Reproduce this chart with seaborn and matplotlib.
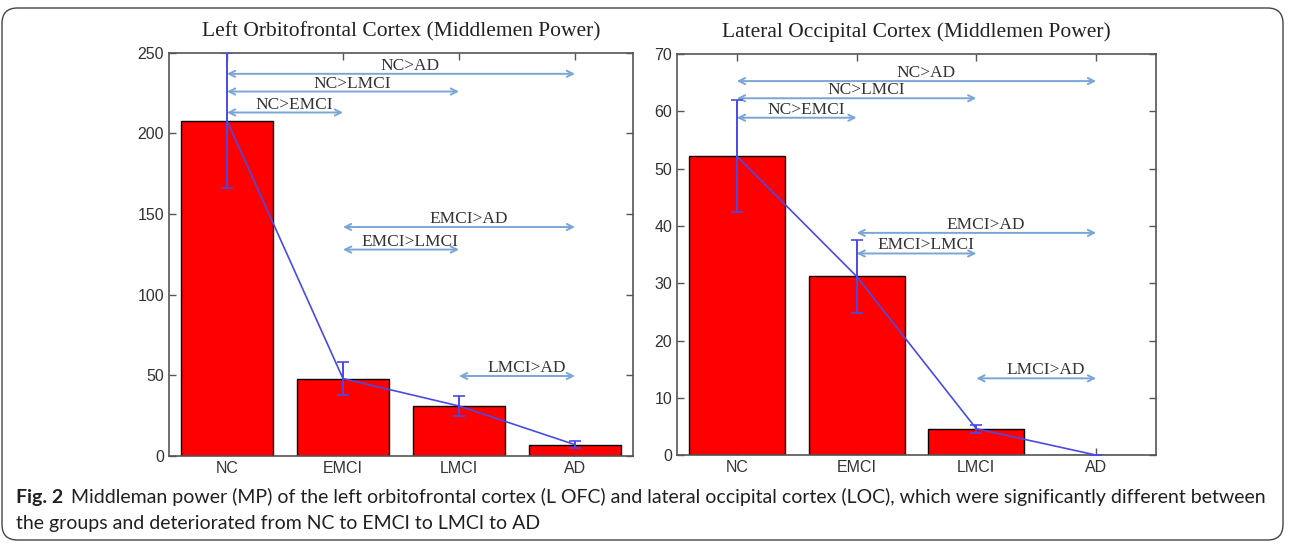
import numpy as np
import pandas as pd
import matplotlib
matplotlib.use("Agg")
import matplotlib.pyplot as plt
from matplotlib.patches import FancyBboxPatch
import seaborn as sns

# data
groups = ["NC", "EMCI", "LMCI", "AD"]

lofc_mean = [208, 48, 31, 7]
lofc_err = [42, 10, 6, 2]
lofc_pairs = [("NC>AD", 0, 3, 237), ("NC>LMCI", 0, 2, 226), ("NC>EMCI", 0, 1, 213),
              ("EMCI>AD", 1, 3, 142), ("EMCI>LMCI", 1, 2, 128), ("LMCI>AD", 2, 3, 49.6)]

loc_mean = [52.2, 31.2, 4.6, 0.0]
loc_err = [9.8, 6.4, 0.7, 0.0]
loc_pairs = [("NC>AD", 0, 3, 65.3), ("NC>LMCI", 0, 2, 62.3), ("NC>EMCI", 0, 1, 58.9),
             ("EMCI>AD", 1, 3, 38.8), ("EMCI>LMCI", 1, 2, 35.2), ("LMCI>AD", 2, 3, 13.4)]

caption_line1 = ("Middleman power (MP) of the left orbitofrontal cortex (L OFC) and lateral "
                 "occipital cortex (LOC), which were significantly different between")
caption_line2 = "the groups and deteriorated from NC to EMCI to LMCI to AD"

sns.set_style("white")
plt.rcParams["font.family"] = ["Liberation Sans", "DejaVu Sans"]

SERIF = ["Liberation Serif", "DejaVu Serif"]
FRAME = "#555555"
LINE_BLUE = "#4a4ae6"
ARROW_BLUE = "#7aa6d6"


def draw_panel(ax, title, means, errs, pairs, ylim, yticks):
    df = pd.DataFrame({"group": groups, "value": means})
    sns.barplot(data=df, x="group", y="value", color="#ff0000", saturation=1,
                width=0.8, edgecolor="black", linewidth=1.0, ax=ax, zorder=2)
    xs = np.arange(len(groups))
    ax.errorbar(xs, means, yerr=errs, color=LINE_BLUE, lw=1.2, capsize=4,
                capthick=1.2, elinewidth=1.4, zorder=4)
    for label, a, b, y in pairs:
        ax.annotate("", xy=(b, y), xytext=(a, y),
                    arrowprops=dict(arrowstyle="<->", color=ARROW_BLUE, lw=1.4,
                                    mutation_scale=11, shrinkA=0, shrinkB=0),
                    zorder=3)
        ax.text((a + b) / 2 + 0.08, y, label, ha="center", va="bottom",
                family=SERIF, fontsize=12.5, color="#333333", zorder=5)
    ax.set_xlim(-0.5, 3.5)
    ax.set_ylim(*ylim)
    ax.set_yticks(yticks)
    ax.set_xticks(xs)
    ax.set_xticklabels(groups)
    ax.set_xlabel("")
    ax.set_ylabel("")
    ax.set_title(title, family=SERIF, fontsize=15.5, color="#222222", pad=12)
    ax.tick_params(direction="in", length=5, width=1, colors=FRAME,
                   labelcolor="#333333", labelsize=11.5, top=True, right=True,
                   bottom=True, left=True)
    for s in ax.spines.values():
        s.set_color(FRAME)
        s.set_linewidth(1.2)
        s.set_visible(True)


fig = plt.figure(figsize=(12.9, 5.47), dpi=100)
ax1 = fig.add_axes([0.131, 0.1664, 0.3597, 0.737])
ax2 = fig.add_axes([0.5248, 0.168, 0.3713, 0.733])

draw_panel(ax1, "Left Orbitofrontal Cortex (Middlemen Power)", lofc_mean, lofc_err,
           lofc_pairs, (0, 250), np.arange(0, 251, 50))
draw_panel(ax2, "Lateral Occipital Cortex (Middlemen Power)", loc_mean, loc_err,
           loc_pairs, (0, 70), np.arange(0, 71, 10))

# outer rounded frame
frame = FancyBboxPatch((2 / 1290, 7 / 547), 1281 / 1290, 532 / 547,
                       boxstyle="round,pad=0,rounding_size=0.012",
                       transform=fig.transFigure, fill=False, ec="#444444",
                       lw=1.0, mutation_aspect=1290 / 547)
fig.patches.append(frame)

cap_font = ["Lato", "DejaVu Sans"]
t = fig.text(16 / 1290, 1 - 497 / 547, "Fig. 2", fontsize=14, weight="bold",
             family=cap_font, color="#231f20", va="center")
fig.canvas.draw()
bb = t.get_window_extent()
fig.text((bb.x1 + 8) / 1290, 1 - 497 / 547, caption_line1,
         fontsize=14, family=cap_font, color="#231f20", va="center")
fig.text(16 / 1290, 1 - 523 / 547, caption_line2,
         fontsize=14, family=cap_font, color="#231f20", va="center")

fig.savefig("out.png", dpi=100)
